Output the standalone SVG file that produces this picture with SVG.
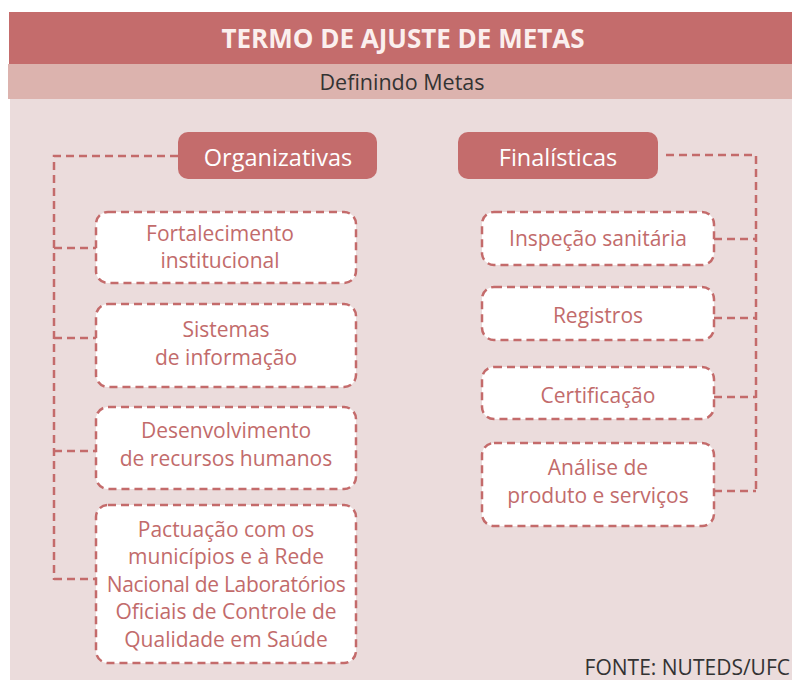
<svg xmlns="http://www.w3.org/2000/svg" width="792" height="680" viewBox="0 0 792 680">
<style>
.t{font-family:"Open Sans","DejaVu Sans",sans-serif;text-anchor:middle}
.box{fill:#fff;stroke:#c46b6b;stroke-width:2.5;stroke-dasharray:8 5}
.bt{font-family:"Open Sans","DejaVu Sans",sans-serif;text-anchor:middle;font-size:21px;fill:#c26b6b}
.con{fill:none;stroke:#c46b6b;stroke-width:2.5;stroke-dasharray:8 5}
.cat{fill:#c46c6c}
.ct{font-family:"Open Sans","DejaVu Sans",sans-serif;text-anchor:middle;font-size:23.5px;fill:#fff}
</style>
<rect x="0" y="0" width="792" height="680" fill="#fff"/>
<rect x="10" y="99" width="782" height="581" fill="#ebdcdc"/>
<rect x="9" y="12" width="783" height="52" fill="#c46c6c"/>
<rect x="8" y="64" width="784" height="35" fill="#dcb3ae"/>
<g id="title">
<text class="t" x="403" y="48" font-size="26" font-weight="bold" fill="#fbefee">TERMO DE AJUSTE DE METAS</text>
<text class="t" x="402" y="90" font-size="21.5" fill="#333">Definindo Metas</text>
</g>
<g id="connectors">
<path class="con" d="M178 156 H54 V580 M54 248 H96 M54 338 H96 M54 451 H96 M54 579 H96"/>
<path class="con" d="M666 155 H756 V491 M714 239 H756 M714 318 H756 M714 397 H756 M714 491 H756"/>
</g>
<g id="organizativas">
<rect class="cat" x="178" y="132" width="199" height="47" rx="10"/>
<text class="ct" x="278" y="166">Organizativas</text>
</g>
<g id="finalisticas">
<rect class="cat" x="458" y="132" width="200" height="47" rx="10"/>
<text class="ct" x="558" y="166">Finalísticas</text>
</g>
<g id="fortalecimento">
<rect class="box" x="96" y="212" width="260" height="71" rx="12"/>
<text class="bt" x="220" y="241">Fortalecimento</text>
<text class="bt" x="220" y="268">institucional</text>
</g>
<g id="sistemas">
<rect class="box" x="96" y="304" width="260" height="83" rx="12"/>
<text class="bt" x="226" y="337">Sistemas</text>
<text class="bt" x="226" y="365">de informação</text>
</g>
<g id="desenvolvimento">
<rect class="box" x="96" y="407" width="260" height="82" rx="12"/>
<text class="bt" x="226" y="438">Desenvolvimento</text>
<text class="bt" x="226" y="466">de recursos humanos</text>
</g>
<g id="pactuacao">
<rect class="box" x="96" y="505" width="260" height="158" rx="12"/>
<text class="bt" x="226" y="537">Pactuação com os</text>
<text class="bt" x="226" y="564">municípios e à Rede</text>
<text class="bt" x="226" y="592" letter-spacing="-0.3">Nacional de Laboratórios</text>
<text class="bt" x="226" y="619">Oficiais de Controle de</text>
<text class="bt" x="226" y="647">Qualidade em Saúde</text>
</g>
<g id="inspecao">
<rect class="box" x="482" y="212" width="232" height="53" rx="12"/>
<text class="bt" x="598" y="246">Inspeção sanitária</text>
</g>
<g id="registros">
<rect class="box" x="482" y="287" width="232" height="53" rx="12"/>
<text class="bt" x="598" y="323">Registros</text>
</g>
<g id="certificacao">
<rect class="box" x="482" y="367" width="232" height="52" rx="12"/>
<text class="bt" x="598" y="403">Certificação</text>
</g>
<g id="analise">
<rect class="box" x="482" y="443" width="232" height="83" rx="12"/>
<text class="bt" x="598" y="475">Análise de</text>
<text class="bt" x="598" y="503">produto e serviços</text>
</g>
<text class="t" x="790" y="675" font-size="21" fill="#333" style="text-anchor:end">FONTE: NUTEDS/UFC</text>
</svg>
